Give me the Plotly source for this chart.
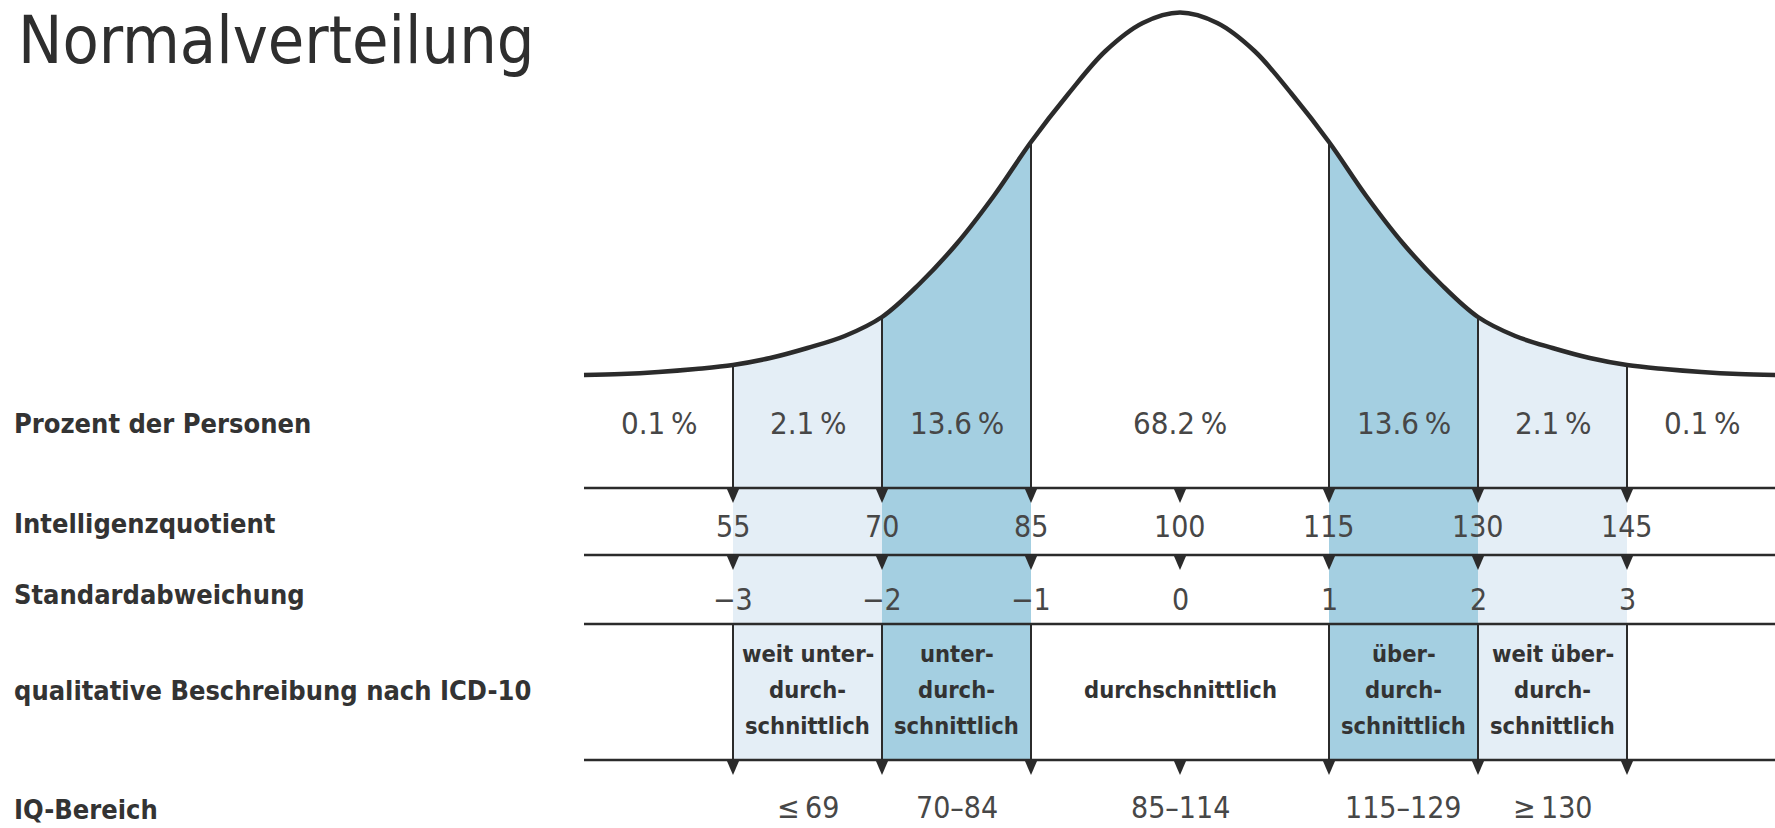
import plotly.graph_objects as go

# ---------------- data ----------------
title_text = "Normalverteilung"
row_labels = ["Prozent der Personen", "Intelligenzquotient", "Standardabweichung",
              "qualitative Beschreibung nach ICD-10", "IQ-Bereich"]

# bell curve: position in standard deviations and drawn height above the base line
curve_z = [-4.0, -3.75, -3.5, -3.25, -3.0, -2.75, -2.5, -2.25, -2.0, -1.75, -1.5,
           -1.25, -1.0, -0.75, -0.5, -0.25, 0.0, 0.25, 0.5, 0.75, 1.0, 1.25, 1.5,
           1.75, 2.0, 2.25, 2.5, 2.75, 3.0, 3.25, 3.5, 3.75, 4.0]
curve_h = [1, 2, 4, 7, 11, 18, 28, 40, 59, 92, 132,
           180, 234, 282, 325, 353, 363.5, 353, 325, 282, 234, 180, 132,
           92, 59, 40, 28, 18, 11, 7, 4, 2, 1]

sd_ticks = [-3, -2, -1, 0, 1, 2, 3]
sd_labels = ["\u22123", "\u22122", "\u22121", "0", "1", "2", "3"]
iq_labels = ["55", "70", "85", "100", "115", "130", "145"]

band_centers = [-3.5, -2.5, -1.5, 0, 1.5, 2.5, 3.5]
band_percent = ["0.1\u2009%", "2.1\u2009%", "13.6\u2009%", "68.2\u2009%",
                "13.6\u2009%", "2.1\u2009%", "0.1\u2009%"]

shade_from = [-3, -2, 1, 2]
shade_to = [-2, -1, 2, 3]
shade_kind = ["light", "mid", "mid", "light"]

divider_z = [-3, -2, -1, 1, 2, 3]

icd_centers = [-2.5, -1.5, 0, 1.5, 2.5]
icd_labels = [["weit unter-", "durch-", "schnittlich"],
              ["unter-", "durch-", "schnittlich"],
              ["durchschnittlich"],
              ["über-", "durch-", "schnittlich"],
              ["weit über-", "durch-", "schnittlich"]]
iq_ranges = ["\u2264\u200969", "70\u201384", "85\u2013114", "115\u2013129", "\u2265\u2009130"]

# ---------------- layout constants ----------------
W, H = 1775, 828
X0_PX, SD_PX = 1180, 149          # pixel of mean, pixels per SD
BASE_PX = 376                     # pixel row of curve base
X_RANGE = [(0 - X0_PX) / SD_PX, (W - X0_PX) / SD_PX]
Y_RANGE = [BASE_PX - H, BASE_PX]

def ypx(p):
    return BASE_PX - p

Y_LINE1, Y_LINE2, Y_LINE3, Y_LINE4 = ypx(488), ypx(555), ypx(624), ypx(760)
Y_PCT, Y_IQ, Y_SD, Y_ICD = ypx(423), ypx(526), ypx(599), ypx(690)
Y_RNG_BOTTOM = ypx(H)
Y_LAB = [ypx(423), ypx(523), ypx(594), ypx(690)]
ICD_LINE = 36

FONT = "Liberation Sans Narrow, DejaVu Sans Condensed, Arial Narrow, sans-serif"
INK = "#2b2b2b"
TXT = "#474747"
COL = {"light": "#e4eef6", "mid": "#a4cfe1"}

fig = go.Figure()

# shaded bands (curve down to bottom of ICD row)
for a, b, k in zip(shade_from, shade_to, shade_kind):
    xs = [z for z in curve_z if a <= z <= b]
    ys = [h for z, h in zip(curve_z, curve_h) if a <= z <= b]
    fig.add_trace(go.Scatter(x=[a, b], y=[Y_LINE4, Y_LINE4], mode="lines",
                             line=dict(width=0), hoverinfo="skip", showlegend=False))
    fig.add_trace(go.Scatter(x=xs, y=ys, mode="lines", fill="tonexty", fillcolor=COL[k],
                             line=dict(width=0, shape="spline"), hoverinfo="skip",
                             showlegend=False))

# vertical dividers
vx, vy = [], []
for z in divider_z:
    h = curve_h[curve_z.index(z)]
    vx += [z, z, None, z, z, None]
    vy += [h, Y_LINE1, None, Y_LINE3, Y_LINE4, None]
fig.add_trace(go.Scatter(x=vx, y=vy, mode="lines", line=dict(color=INK, width=2),
                         hoverinfo="skip", showlegend=False))

# bell curve
fig.add_trace(go.Scatter(x=curve_z, y=curve_h, mode="lines",
                         line=dict(color=INK, width=4.5, shape="spline"),
                         hoverinfo="skip", showlegend=False))

shapes = []
for y in [Y_LINE1, Y_LINE2, Y_LINE3, Y_LINE4]:
    shapes.append(dict(type="line", xref="x", yref="y", x0=-4, x1=4.2, y0=y, y1=y,
                       line=dict(color=INK, width=2.5), layer="above"))
hw, th = 6.5 / SD_PX, 15
for y in [Y_LINE1, Y_LINE2, Y_LINE4]:
    for z in sd_ticks:
        shapes.append(dict(type="path", xref="x", yref="y",
                           path=f"M {z-hw},{y} L {z+hw},{y} L {z},{y-th} Z",
                           fillcolor=INK, line=dict(width=0), layer="above"))

ann = []
ann.append(dict(text=title_text, xref="paper", yref="paper", x=16 / W, y=1,
                xanchor="left", yanchor="top", showarrow=False,
                font=dict(family=FONT, size=66, color="#2e2e2e")))
for lab, yy in zip(row_labels[:4], Y_LAB):
    ann.append(dict(text=lab, xref="paper", yref="y", x=12 / W, y=yy,
                    xanchor="left", yanchor="middle", showarrow=False,
                    font=dict(family=FONT, size=27, color="#333333", weight="bold")))
ann.append(dict(text=row_labels[4], xref="paper", yref="y", x=12 / W, y=Y_RNG_BOTTOM,
                xanchor="left", yanchor="bottom", yshift=1, showarrow=False,
                font=dict(family=FONT, size=27, color="#333333", weight="bold")))
for c, t in zip(band_centers, band_percent):
    ann.append(dict(text=t, x=c, y=Y_PCT, xref="x", yref="y", showarrow=False,
                    font=dict(family=FONT, size=31, color=TXT)))
for z, t in zip(sd_ticks, iq_labels):
    ann.append(dict(text=t, x=z, y=Y_IQ, xref="x", yref="y", showarrow=False,
                    font=dict(family=FONT, size=30, color=TXT)))
for z, t in zip(sd_ticks, sd_labels):
    ann.append(dict(text=t, x=z, y=Y_SD, xref="x", yref="y", showarrow=False,
                    font=dict(family=FONT, size=30, color=TXT)))
for c, lines in zip(icd_centers, icd_labels):
    n = len(lines)
    for i, t in enumerate(lines):
        ann.append(dict(text=t, x=c, y=Y_ICD - (i - (n - 1) / 2) * ICD_LINE,
                        xref="x", yref="y", showarrow=False,
                        font=dict(family=FONT, size=23.5, color="#333333", weight="bold")))
for c, t in zip(icd_centers, iq_ranges):
    ann.append(dict(text=t, x=c, y=Y_RNG_BOTTOM, xref="x", yref="y", showarrow=False,
                    yanchor="bottom", yshift=1,
                    font=dict(family=FONT, size=30, color=TXT)))

fig.update_layout(
    width=W, height=H, autosize=False,
    margin=dict(l=0, r=0, t=0, b=0),
    paper_bgcolor="white", plot_bgcolor="white",
    xaxis=dict(range=X_RANGE, visible=False, fixedrange=True),
    yaxis=dict(range=Y_RANGE, visible=False, fixedrange=True),
    shapes=shapes, annotations=ann, showlegend=False,
)

fig.write_html("out.html", config={"displayModeBar": False},
               post_script="document.body.style.margin='0';document.body.style.overflow='hidden';")
